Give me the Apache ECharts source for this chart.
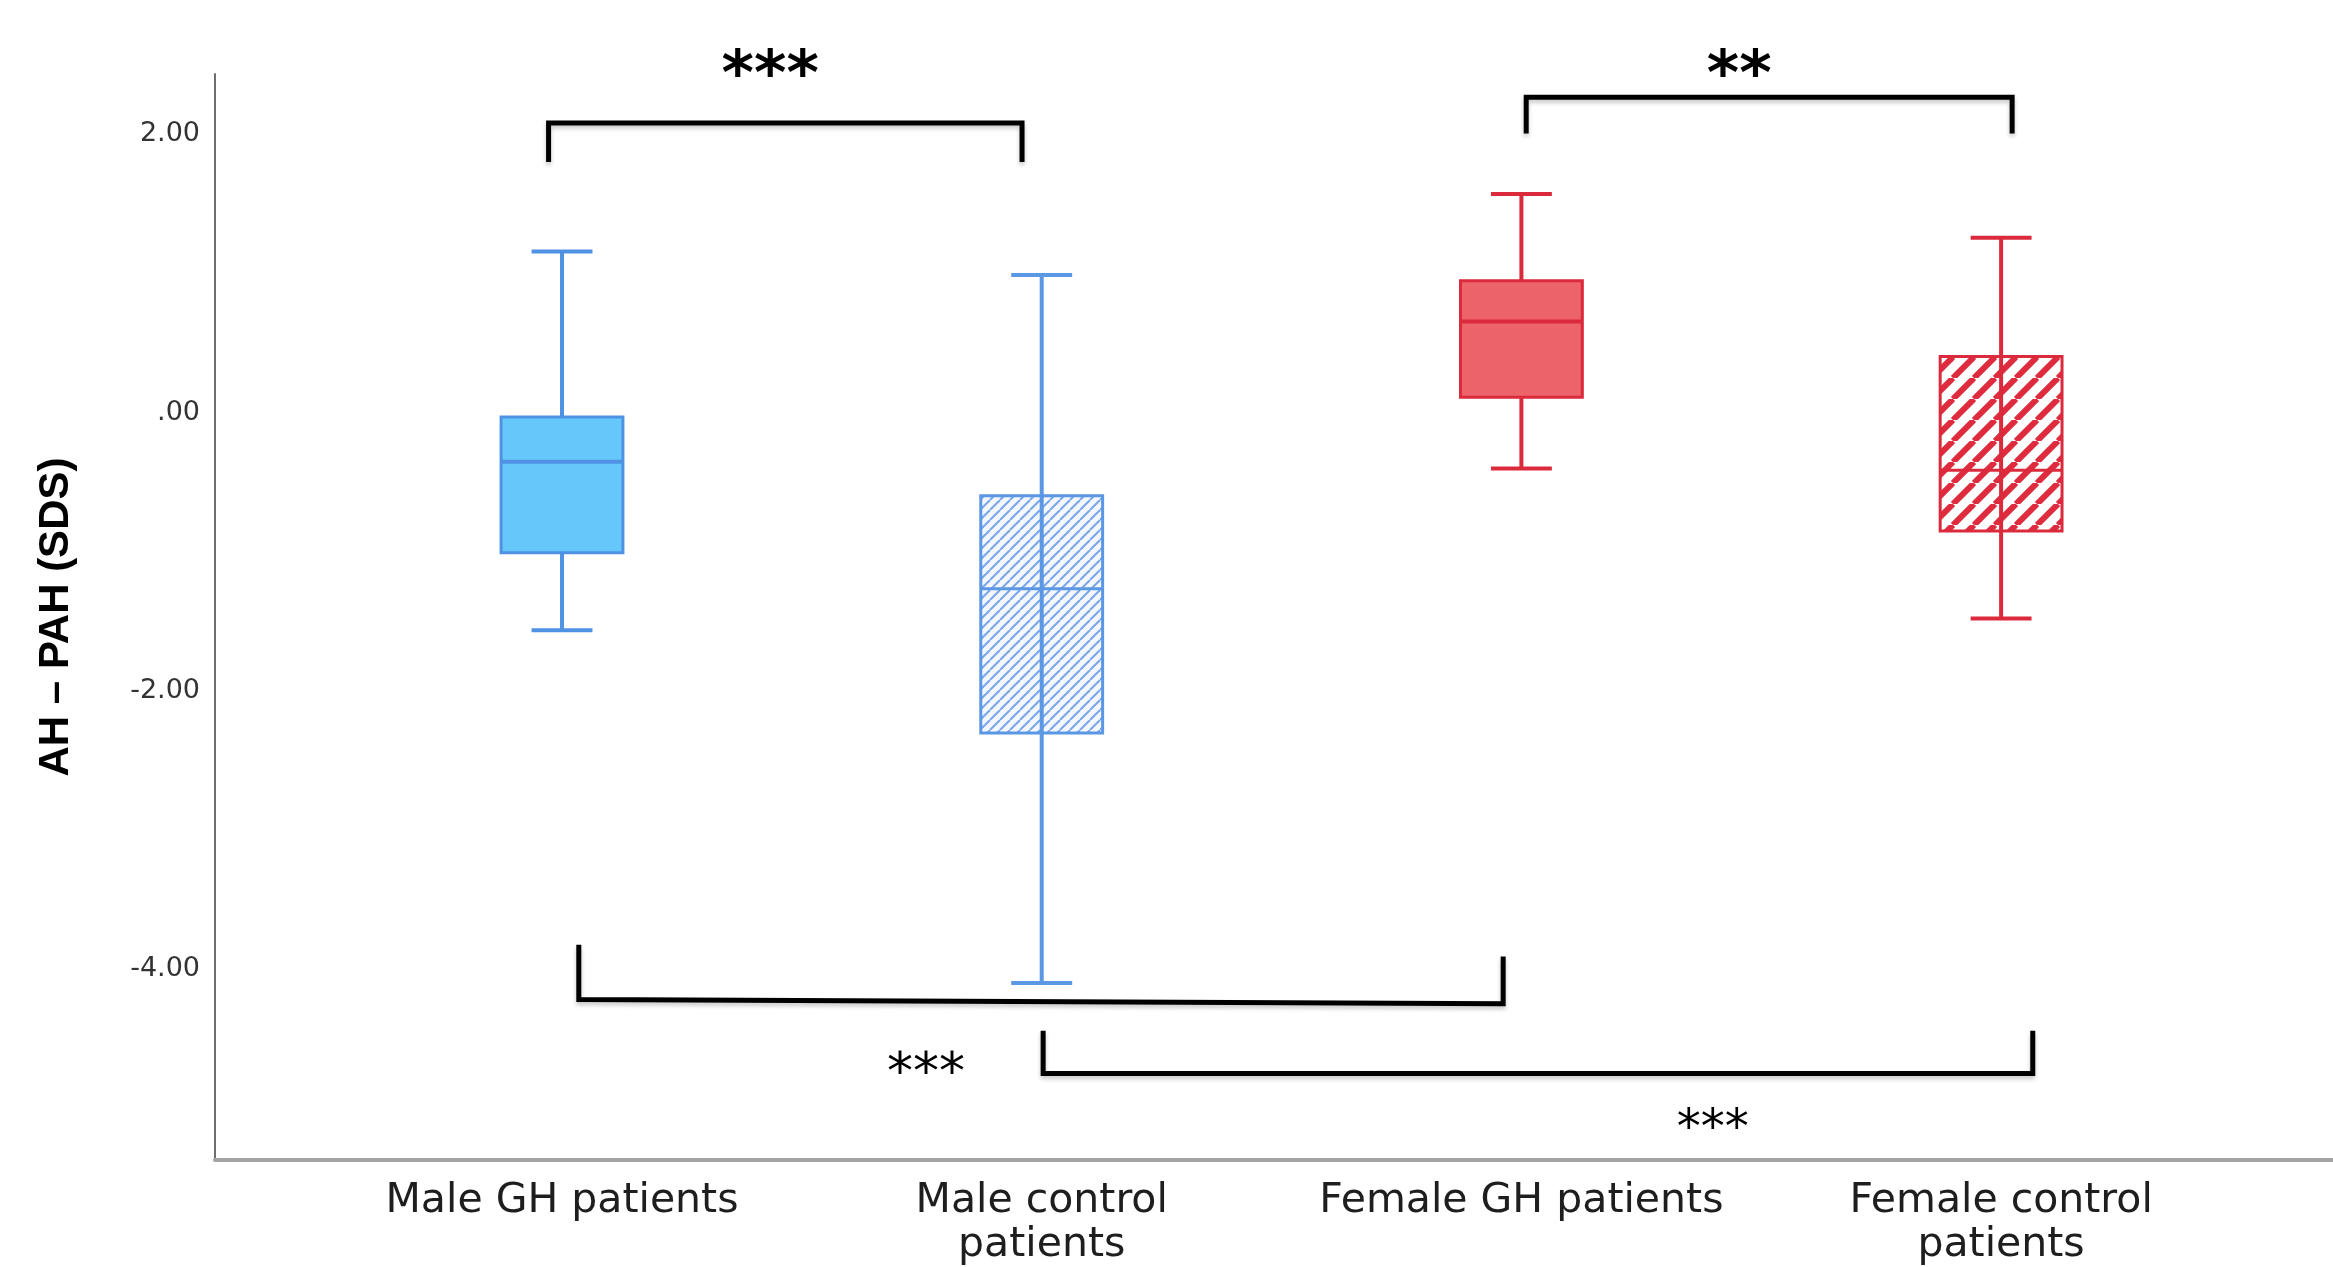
<!DOCTYPE html>
<html>
<head>
<meta charset="utf-8">
<script src="https://cdn.jsdelivr.net/npm/echarts@6/dist/echarts.min.js"></script>
<style>
html,body{margin:0;padding:0;background:#ffffff;}
#chart{width:2333px;height:1267px;}
</style>
</head>
<body>
<div id="chart"></div>
<script>
// ---------------- data ----------------
const categories = ['Male GH patients', 'Male control\npatients', 'Female GH patients', 'Female control\npatients'];
const lowWhisker  = [-1.565, -4.100, -0.402, -1.481];
const q1Values    = [-1.007, -2.303,  0.110, -0.852];
const medianValues= [-0.354, -1.266,  0.655, -0.414];
const q3Values    = [-0.031, -0.597,  0.948,  0.404];
const highWhisker = [ 1.158,  0.989,  1.572,  1.256];
const yTicks = [-4, -2, 0, 2];

// significance brackets (data coordinates: category position, value)
const bracketX1     = [-0.028, 2.010, 0.035, 1.003];
const bracketX2     = [ 0.959, 3.023, 1.962, 3.066];
const bracketBarY1  = [ 2.081, 2.267, -4.220, -4.752];
const bracketBarY2  = [ 2.081, 2.267, -4.250, -4.752];
const bracketLegY1  = [ 1.802, 2.007, -3.825, -4.443];
const bracketLegY2  = [ 1.802, 2.007, -3.910, -4.443];

// significance stars
const starText = ['***', '**', '***', '***'];
const starX    = [0.434, 2.454, 0.759, 2.399];
const starY    = [2.518, 2.514, -4.673, -5.079];

// ---------------- styles ----------------
function makeHatch(period, lineWidth, color, bg) {
  const c = document.createElement('canvas');
  c.width = period; c.height = period;
  const ctx = c.getContext('2d');
  ctx.fillStyle = bg; ctx.fillRect(0, 0, period, period);
  ctx.strokeStyle = color; ctx.lineWidth = lineWidth;
  for (let k = -1; k <= 1; k++) {
    ctx.beginPath();
    ctx.moveTo(k * period, period);
    ctx.lineTo(k * period + period, 0);
    ctx.stroke();
  }
  return { image: c, repeat: 'repeat' };
}
const boxStyles = [
  { fill: '#66C8FA', stroke: '#4F92E3', hatched: false },
  { fill: makeHatch(10, 2, '#78A6EA', '#F4F8FE'), stroke: '#5A97E4', hatched: true },
  { fill: '#EC6369', stroke: '#DC2A3D', hatched: false },
  { fill: makeHatch(21, 6, '#DE2B3E', '#FFFFFF'), stroke: '#DC2A3D', hatched: true }
];
const starStyles = [
  { size: 62, weight: 'bold' },
  { size: 62, weight: 'bold' },
  { size: 52, weight: 'normal' },
  { size: 48, weight: 'normal' }
];
const BOX_WIDTH = 0.254;
const CAP_WIDTH = 0.127;

const boxData = categories.map((c, i) => [i, lowWhisker[i], q1Values[i], medianValues[i], q3Values[i], highWhisker[i]]);
const bracketData = bracketX1.map((x, i) => [x, bracketX2[i], bracketBarY1[i], bracketBarY2[i], bracketLegY1[i], bracketLegY2[i]]);
const starData = starX.map((x, i) => [x, starY[i], i]);

function renderBox(params, api) {
  const i = params.dataIndex;
  const st = boxStyles[i];
  const x = api.value(0);
  const pLo = api.coord([x, api.value(1)]);
  const pQ1 = api.coord([x, api.value(2)]);
  const pMd = api.coord([x, api.value(3)]);
  const pQ3 = api.coord([x, api.value(4)]);
  const pHi = api.coord([x, api.value(5)]);
  const bw = api.size([BOX_WIDTH, 0])[0];
  const cw = api.size([CAP_WIDTH, 0])[0];
  const cx = pLo[0];
  const stem = { type: 'line', shape: { x1: cx, y1: pHi[1], x2: cx, y2: pLo[1] }, style: { stroke: st.stroke, lineWidth: 4 } };
  const rect = { type: 'rect', shape: { x: cx - bw / 2, y: pQ3[1], width: bw, height: pQ1[1] - pQ3[1] },
                 style: { fill: st.fill, stroke: st.stroke, lineWidth: 3 } };
  const med = { type: 'line', shape: { x1: cx - bw / 2, y1: pMd[1], x2: cx + bw / 2, y2: pMd[1] }, style: { stroke: st.stroke, lineWidth: st.hatched ? 3 : 4 } };
  const capTop = { type: 'line', shape: { x1: cx - cw / 2, y1: pHi[1], x2: cx + cw / 2, y2: pHi[1] }, style: { stroke: st.stroke, lineWidth: 4 } };
  const capBot = { type: 'line', shape: { x1: cx - cw / 2, y1: pLo[1], x2: cx + cw / 2, y2: pLo[1] }, style: { stroke: st.stroke, lineWidth: 4 } };
  const children = st.hatched ? [rect, stem, med, capTop, capBot] : [stem, rect, med, capTop, capBot];
  return { type: 'group', children: children };
}

function renderBracket(params, api) {
  const x1 = api.value(0), x2 = api.value(1);
  const a = api.coord([x1, api.value(4)]);
  const b = api.coord([x1, api.value(2)]);
  const c = api.coord([x2, api.value(3)]);
  const d = api.coord([x2, api.value(5)]);
  return {
    type: 'polyline',
    shape: { points: [a, b, c, d] },
    style: { stroke: '#000000', lineWidth: 5, fill: null, lineJoin: 'miter',
             shadowColor: 'rgba(0,0,0,0.22)', shadowBlur: 4, shadowOffsetY: 3 }
  };
}

function renderStar(params, api) {
  const i = params.dataIndex;
  const s = starStyles[i];
  const p = api.coord([api.value(0), api.value(1)]);
  return {
    type: 'text',
    x: p[0], y: p[1] + 0.245 * s.size,
    style: { text: starText[i], fill: '#000000', font: s.weight + ' ' + s.size + 'px "DejaVu Sans"',
             align: 'center', verticalAlign: 'middle' }
  };
}

// ---------------- chart ----------------
const chart = echarts.init(document.getElementById('chart'), null, { renderer: 'canvas' });
const option = {
  animation: false,
  backgroundColor: '#ffffff',
  grid: { left: 215, right: 0, top: 74, bottom: 107, containLabel: false, outerBoundsMode: 'none' },
  xAxis: {
    type: 'value',
    min: -0.7234,
    max: 3.6919,
    splitLine: { show: false },
    axisTick: { show: false },
    axisLine: { show: true, onZero: false, lineStyle: { color: '#A3A3A3', width: 4 } },
    axisLabel: {
      customValues: [0, 1, 2, 3],
      formatter: function (v) { return categories[Math.round(v)]; },
      color: '#1E1E1E',
      fontFamily: 'DejaVu Sans',
      fontSize: 41,
      lineHeight: 44,
      margin: 19,
      align: 'center'
    }
  },
  yAxis: {
    type: 'value',
    min: -5.373,
    max: 2.434,
    name: 'AH \u2013 PAH (SDS)',
    nameLocation: 'middle',
    nameRotate: 90,
    nameGap: 138,
    nameTextStyle: { fontFamily: 'Liberation Sans', fontWeight: 'bold', fontSize: 42, color: '#000000' },
    splitLine: { show: false },
    axisTick: { show: false },
    axisLine: { show: true, onZero: false, lineStyle: { color: '#6E6E6E', width: 2 } },
    axisLabel: {
      customValues: yTicks,
      formatter: function (v) { return v === 0 ? '.00' : v.toFixed(2); },
      color: '#333333',
      fontFamily: 'DejaVu Sans',
      fontSize: 27,
      margin: 15
    }
  },
  series: [
    { type: 'custom', name: 'boxes', renderItem: renderBox, data: boxData, clip: false, encode: { x: 0, y: [1, 2, 3, 4, 5] } },
    { type: 'custom', name: 'brackets', renderItem: renderBracket, data: bracketData, clip: false, encode: { x: [0, 1], y: [2, 3, 4, 5] } },
    { type: 'custom', name: 'stars', renderItem: renderStar, data: starData, clip: false, encode: { x: 0, y: 1 } }
  ]
};
chart.setOption(option);
</script>
</body>
</html>
